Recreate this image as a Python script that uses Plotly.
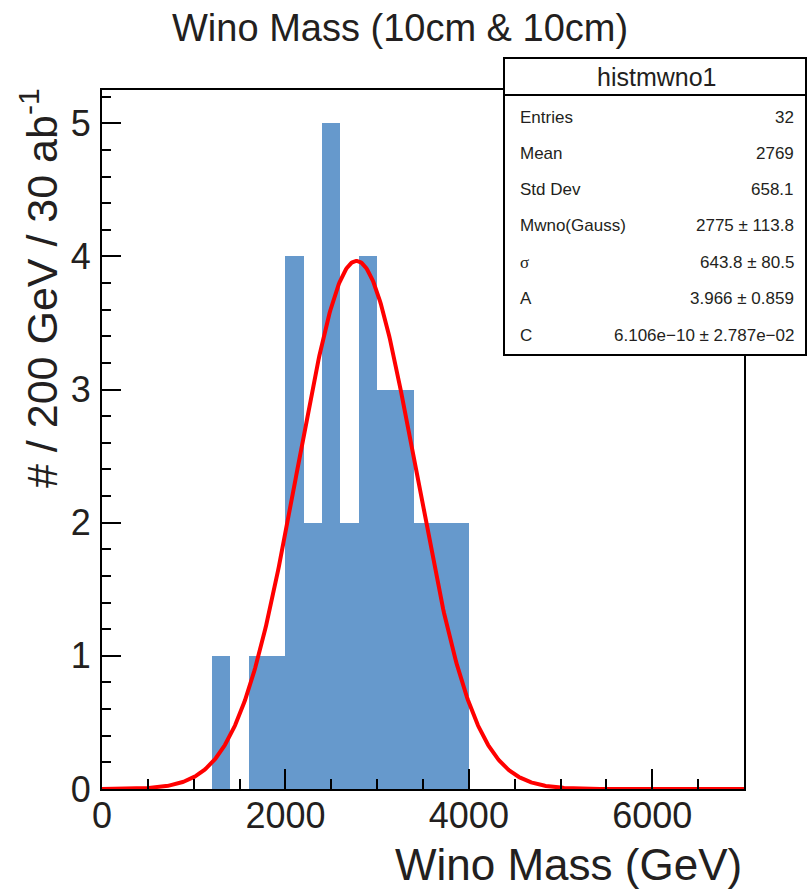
import numpy as np
import plotly.graph_objects as go

# ---- data ----
bin_width = 200
bin_low_edges = [1200, 1400, 1600, 1800, 2000, 2200, 2400, 2600, 2800, 3000, 3200, 3400, 3600, 3800]
counts = [1, 0, 1, 1, 4, 2, 5, 2, 4, 3, 3, 2, 2, 2]

# Gaussian fit parameters (from stats box)
fit_mean = 2775.0
fit_sigma = 643.8
fit_A = 3.966
fit_C = 6.106e-10

stats_labels = ["Entries", "Mean", "Std Dev", "Mwno(Gauss)", "σ", "A", "C"]
stats_values = ["32", "2769", "658.1", "2775 ± 113.8", "643.8 ± 80.5", "3.966 ± 0.859",
                "6.106e−10 ± 2.787e−02"]

x_range = [0, 7000]
y_range = [0, 5.25]

# ---- layout geometry (pixels) ----
W, H = 807, 891
L, R, T, B = 102, 744, 90, 789
pw, ph = R - L, B - T

def px_x(p):
    return (p - L) / pw

def px_y(p):
    return (B - p) / ph

TXT = "#231F20"
FONT = "Liberation Sans, Arial, Helvetica, sans-serif"

bin_centers = [e + bin_width / 2 for e in bin_low_edges]
xf = np.linspace(x_range[0], x_range[1], 701)
yf = fit_A * np.exp(-0.5 * ((xf - fit_mean) / fit_sigma) ** 2) + fit_C

fig = go.Figure()
fig.add_trace(go.Bar(x=bin_centers, y=counts, width=[bin_width] * len(counts),
                     marker=dict(color="#6699CC", line=dict(width=0)),
                     showlegend=False, hoverinfo="skip"))
fig.add_trace(go.Scatter(x=xf, y=yf, mode="lines",
                         line=dict(color="#FF0000", width=4),
                         showlegend=False, cliponaxis=True))

axis_common = dict(showgrid=False, zeroline=False, showline=True, linecolor="black",
                   linewidth=2, mirror=True, ticks="inside", tickcolor="black",
                   tickwidth=2, tickfont=dict(family=FONT, size=36, color=TXT))

fig.update_xaxes(range=x_range, tickmode="linear", tick0=0, dtick=2000, ticklen=20,
                 minor=dict(dtick=500, ticks="inside", ticklen=10, tickcolor="black",
                            tickwidth=2, showgrid=False),
                 ticklabelstandoff=-6,
                 **axis_common)
fig.update_yaxes(range=y_range, tickmode="linear", tick0=0, dtick=1, ticklen=19,
                 minor=dict(dtick=0.2, ticks="inside", ticklen=9, tickcolor="black",
                            tickwidth=2, showgrid=False),
                 ticklabelstandoff=2,
                 **axis_common)

annotations = [
    dict(text="Wino Mass (10cm & 10cm)", xref="paper", yref="paper",
         x=px_x(400), y=px_y(28), xanchor="center", yanchor="middle", showarrow=False,
         font=dict(family=FONT, size=38, color=TXT)),
    dict(text="Wino Mass (GeV)", xref="paper", yref="paper",
         x=1.0, y=px_y(864), xanchor="right", yanchor="middle", showarrow=False,
         font=dict(family=FONT, size=44, color=TXT)),
    dict(text="# / 200 GeV / 30 ab<sup>-1</sup>", xref="paper", yref="paper",
         x=px_x(39), y=px_y(86), xanchor="center", yanchor="top", textangle=-90,
         showarrow=False, font=dict(family=FONT, size=43, color=TXT)),
    dict(text="histmwno1", xref="paper", yref="paper",
         x=px_x(657), y=px_y(77), xanchor="center", yanchor="middle", showarrow=False,
         font=dict(family=FONT, size=25, color=TXT)),
]

row_y = [117, 153, 189, 225, 262, 298, 335]
for lab, val, ry in zip(stats_labels, stats_values, row_y):
    lab_font = "Liberation Serif, Times New Roman, serif" if lab == "σ" else FONT
    annotations.append(dict(text=lab, xref="paper", yref="paper", x=px_x(518), y=px_y(ry),
                            xanchor="left", yanchor="middle", showarrow=False,
                            font=dict(family=lab_font, size=17, color=TXT)))
    annotations.append(dict(text=val, xref="paper", yref="paper", x=px_x(796), y=px_y(ry),
                            xanchor="right", yanchor="middle", showarrow=False,
                            font=dict(family=FONT, size=17, color=TXT)))

shapes = [
    dict(type="rect", xref="paper", yref="paper", x0=px_x(504), x1=px_x(806),
         y0=px_y(355), y1=px_y(58), fillcolor="white", line=dict(color="black", width=2),
         layer="above"),
    dict(type="line", xref="paper", yref="paper", x0=px_x(504), x1=px_x(806),
         y0=px_y(95), y1=px_y(95), line=dict(color="black", width=2), layer="above"),
]

fig.update_layout(width=W, height=H, margin=dict(l=L, r=W - R, t=T, b=H - B),
                  paper_bgcolor="white", plot_bgcolor="white", bargap=0,
                  annotations=annotations, shapes=shapes, showlegend=False,
                  font=dict(family=FONT, color=TXT))

fig.write_html("out.html")
